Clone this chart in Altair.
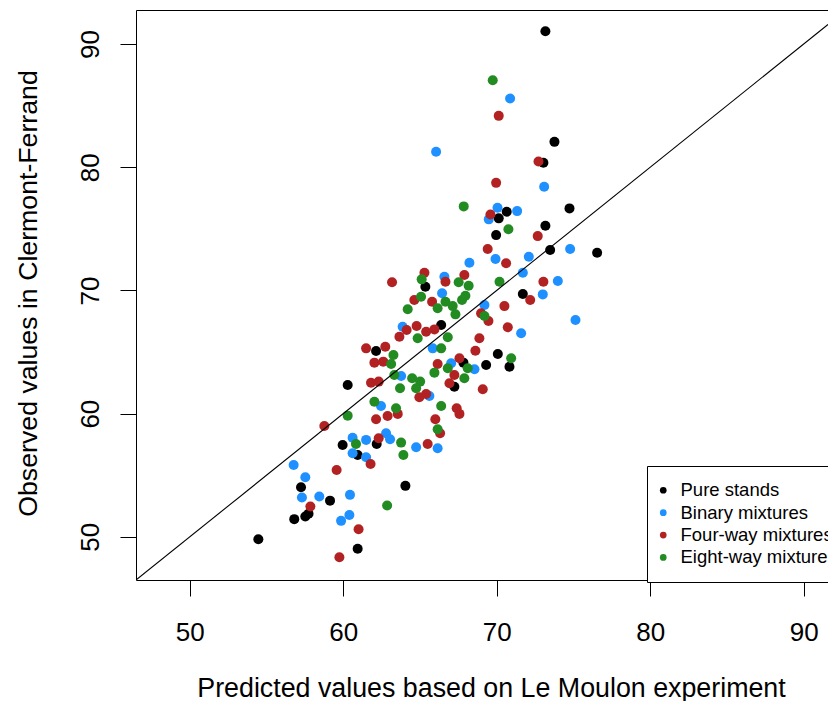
import altair as alt
import pandas as pd

groups = ["Pure stands", "Binary mixtures", "Four-way mixtures", "Eight-way mixtures"]
colors = ["#000000", "#1E90FF", "#B22222", "#228B22"]

pure_x = [73.17, 73.76, 73.04, 74.74, 70.65, 70.13, 73.17, 69.96, 73.48, 76.54, 71.70, 65.35, 66.38, 62.14, 67.83, 69.31,
          67.24, 70.07, 70.83, 60.29, 59.96, 62.18, 60.94, 57.25, 59.14, 57.74, 57.53, 56.81, 54.47, 60.94, 64.05]
pure_y = [91.04, 82.06, 80.36, 76.66, 76.38, 75.85, 75.25, 74.49, 73.28, 73.06, 69.71, 70.30, 67.19, 65.09, 64.14, 63.95,
          62.19, 64.84, 63.81, 62.33, 57.46, 57.54, 56.65, 54.03, 52.94, 51.87, 51.65, 51.44, 49.81, 49.03, 54.14]

binary_x = [70.87, 66.05, 73.09, 70.05, 71.33, 69.48, 74.78, 69.92, 72.09, 71.70, 73.98, 73.00, 75.13, 71.59, 68.22, 66.59,
            66.44, 69.20, 63.87, 65.83, 67.03, 68.55, 63.77, 65.61, 62.46, 62.79, 63.05, 64.75, 66.15, 60.61, 61.49, 61.49,
            60.61, 56.77, 57.53, 57.31, 58.44, 60.44, 60.40, 59.86]
binary_y = [85.58, 81.25, 78.41, 76.71, 76.44, 75.77, 73.36, 72.55, 72.73, 71.44, 70.76, 69.68, 67.60, 66.52, 72.25, 71.11,
            69.77, 68.82, 67.06, 65.30, 64.09, 63.60, 63.06, 61.44, 60.62, 58.41, 57.92, 57.27, 57.19, 58.05, 57.87, 56.46,
            56.79, 55.84, 54.84, 53.19, 53.27, 53.41, 51.78, 51.30]

four_x = [70.13, 72.72, 69.96, 69.59, 72.67, 69.41, 70.61, 73.04, 72.18, 70.50, 70.72, 65.29, 66.66, 67.89, 63.18, 64.63,
          65.79, 68.98, 69.46, 64.13, 64.78, 65.40, 65.94, 63.66, 68.87, 62.74, 68.61, 62.03, 62.61, 66.15, 67.57, 61.81,
          62.31, 67.24, 66.92, 69.09, 65.40, 64.96, 62.89, 63.55, 67.39, 67.57, 62.14, 66.00, 66.31, 62.31, 65.50, 61.49,
          58.77, 59.57, 57.86, 61.00, 59.75, 61.78]
four_y = [84.17, 80.47, 78.73, 76.17, 74.41, 73.36, 72.20, 70.71, 69.22, 68.73, 67.01, 71.44, 70.71, 71.25, 70.66, 69.22,
          69.08, 68.14, 67.52, 66.79, 67.11, 66.65, 66.84, 66.24, 66.12, 65.43, 65.11, 64.14, 64.22, 64.03, 64.49, 62.51,
          62.60, 63.14, 62.47, 61.98, 61.60, 61.33, 59.81, 59.98, 60.44, 59.98, 59.55, 59.55, 58.41, 58.00, 57.54, 65.30,
          59.00, 55.43, 52.46, 50.62, 48.35, 55.92]

eight_x = [69.74, 67.85, 70.76, 70.18, 65.11, 67.52, 68.17, 65.07, 66.15, 66.66, 67.13, 67.31, 67.74, 67.96, 64.20, 69.20,
           64.85, 66.81, 66.38, 63.27, 63.12, 68.11, 66.81, 65.94, 63.33, 64.49, 65.01, 63.70, 64.75, 67.89, 62.03, 63.44,
           66.38, 66.15, 63.77, 60.29, 60.83, 63.92, 62.86, 70.94]
eight_y = [87.06, 76.82, 74.96, 70.71, 70.90, 70.66, 70.38, 69.49, 68.55, 69.08, 68.73, 68.06, 69.22, 69.57, 68.47, 67.92,
           66.12, 66.20, 65.30, 64.76, 64.03, 63.68, 63.68, 63.33, 63.14, 62.87, 62.60, 62.06, 62.06, 62.87, 60.97, 60.44,
           60.62, 58.73, 57.65, 59.84, 57.54, 56.65, 52.54, 64.49]

x_ticks = [50, 60, 70, 80, 90]
y_ticks = [50, 60, 70, 80, 90]
x_domain = [46.5, 91.58]
y_domain = [46.5, 92.76]
diag = [46.5, 91.58]

rows = []
for g, xs, ys in zip(groups, [pure_x, binary_x, four_x, eight_x], [pure_y, binary_y, four_y, eight_y]):
    for a, b in zip(xs, ys):
        rows.append({"pred": a, "obs": b, "group": g})
df = pd.DataFrame(rows)
line_df = pd.DataFrame({"pred": diag, "obs": diag})

FONT = "Liberation Sans"

x_scale = alt.Scale(domain=x_domain, nice=False, zero=False)
y_scale = alt.Scale(domain=y_domain, nice=False, zero=False)

x_axis = alt.Axis(values=x_ticks, orient="bottom", grid=False, tickSize=16, tickColor="black",
                  domainColor="black", labelFontSize=26, labelFont=FONT, labelColor="black",
                  labelPadding=23, labelBaseline="top", labelAlign="center",
                  title="Predicted values based on Le Moulon experiment",
                  titleFont=FONT, titleFontSize=26.8, titleFontWeight="normal", titleColor="black",
                  titleX=355, titleY=95, titleAlign="center", titleBaseline="top")
x_top_axis = alt.Axis(orient="top", labels=False, ticks=False, title=None, grid=False,
                      domain=True, domainColor="black")
y_axis = alt.Axis(values=y_ticks, orient="left", grid=False, tickSize=16, tickColor="black",
                  domainColor="black", labelFontSize=26, labelFont=FONT, labelColor="black",
                  labelAngle=270, labelAlign="center", labelBaseline="bottom", labelPadding=17,
                  title="Observed values in Clermont-Ferrand",
                  titleFont=FONT, titleFontSize=26.7, titleFontWeight="normal", titleColor="black",
                  titleAngle=270, titleX=-94, titleY=283, titleAlign="center", titleBaseline="bottom")

points = alt.Chart(df).mark_circle(size=100, opacity=1).encode(
    x=alt.X("pred:Q", scale=x_scale, axis=x_axis),
    y=alt.Y("obs:Q", scale=y_scale, axis=y_axis),
    color=alt.Color("group:N", scale=alt.Scale(domain=groups, range=colors),
                    legend=alt.Legend(title=None, orient="none", legendX=511, legendY=456, direction="vertical",
                                      strokeColor="black", fillColor="white", padding=15, cornerRadius=0,
                                      labelFontSize=18.5, labelFont=FONT, labelColor="black", labelLimit=400,
                                      symbolType="circle", symbolSize=45, symbolStrokeWidth=0,
                                      rowPadding=3.4, labelOffset=8, symbolOffset=-8)),
)

line = alt.Chart(line_df).mark_line(color="black", strokeWidth=1.1, clip=True).encode(
    x=alt.X("pred:Q", scale=x_scale, axis=x_top_axis),
    y=alt.Y("obs:Q", scale=y_scale, axis=y_axis),
)

chart = alt.layer(points, line).properties(
    width=692, height=570,
    padding={"left": 128, "top": 2, "right": 0, "bottom": 121},
    autosize=alt.AutoSizeParams(type="none"),
).configure_view(stroke=None)

chart.save("out.html", embed_options={"renderer": "svg", "actions": False})
